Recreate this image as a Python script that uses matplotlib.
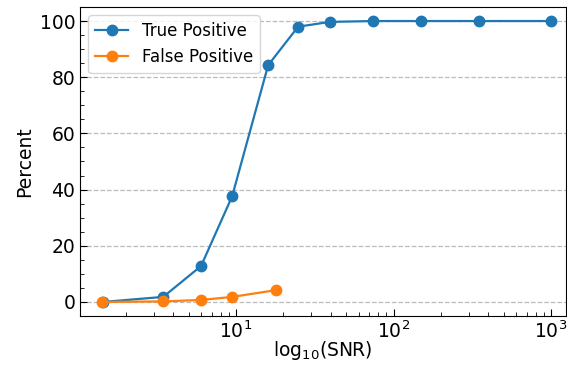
import matplotlib
matplotlib.use('Agg')
import matplotlib.pyplot as plt
import numpy as np

# data
snr_tp = [1.43, 3.45, 6.0, 9.45, 16.0, 24.8, 39.5, 74, 150, 350, 1000]
tp = [0.0, 1.8, 12.8, 37.6, 84.3, 98.0, 99.7, 100, 100, 100, 100]
snr_fp = [1.41, 3.45, 6.0, 9.45, 17.9]
fp = [0.0, 0.2, 0.7, 1.8, 4.2]

plt.rcParams['font.size'] = 13.5
fig = plt.figure(figsize=(5.67, 3.65), dpi=100)
ax = fig.add_axes([80/567, 1-316/365, 486/567, 309/365])
ax.plot(snr_tp, tp, '-o', c='#1f77b4', lw=1.6, ms=7.5, label='True Positive')
ax.plot(snr_fp, fp, '-o', c='#ff7f0e', lw=1.6, ms=7.5, label='False Positive')
ax.set_xscale('log')
ax.set_xlim(10**0.0095, 10**3.095)
ax.set_ylim(-5, 105)
ax.set_yticks([0, 20, 40, 60, 80, 100])
ax.yaxis.set_minor_locator(matplotlib.ticker.MultipleLocator(5))
ax.tick_params(which='both', direction='in')
ax.tick_params(which='major', length=5)
ax.tick_params(which='minor', length=3)
ax.tick_params(axis='x', pad=3)
ax.grid(True, axis='y', ls='--', c='#bbbbbb', lw=0.9)
ax.set_xlabel(r'log$_{10}$(SNR)', labelpad=-2)
ax.set_ylabel('Percent')
ax.legend(loc='upper left', fontsize=12)
fig.savefig('out.png', dpi=100)
